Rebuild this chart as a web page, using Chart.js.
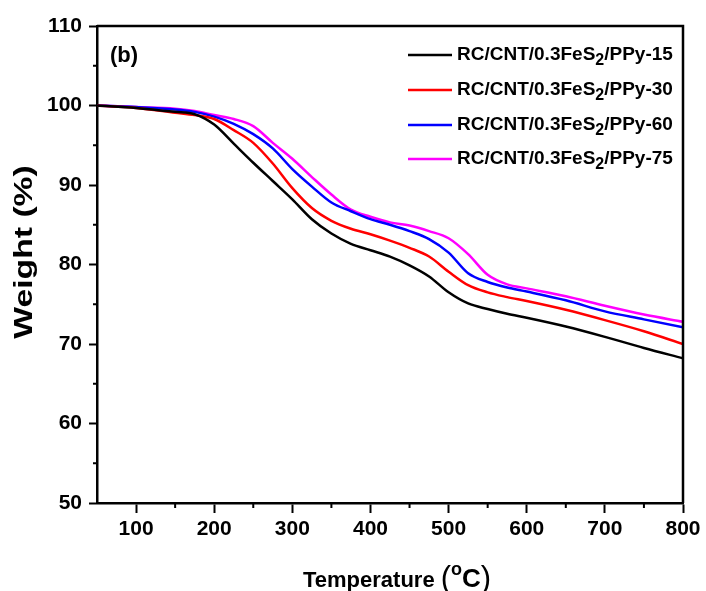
<!DOCTYPE html>
<html><head><meta charset="utf-8">
<script src="https://cdn.jsdelivr.net/npm/chart.js@4/dist/chart.umd.min.js"></script>
<style>html,body{margin:0;padding:0;background:#fff}#wrap{width:706px;height:591px}</style>
</head><body><div id="wrap"><canvas id="c" width="706" height="591"></canvas></div>
<script>
// ---- data ----
const temperatures = [50,100,150,175,200,225,250,275,300,325,350,375,400,425,450,475,500,525,550,575,600,650,700,750,800];
const ppy15 = [100,99.7,99.2,98.9,97.6,95.2,92.8,90.5,88.2,85.7,83.9,82.6,81.8,81.0,79.9,78.5,76.5,75.1,74.4,73.8,73.3,72.2,70.9,69.5,68.2];
const ppy30 = [100,99.7,99.1,98.8,98.3,96.9,95.3,92.7,89.6,87.1,85.5,84.5,83.8,83.0,82.1,81.0,79.1,77.4,76.5,75.9,75.4,74.3,73.0,71.6,70.0];
const ppy60 = [100,99.8,99.5,99.2,98.6,97.7,96.4,94.6,92.0,89.8,87.8,86.7,85.7,85.0,84.2,83.2,81.5,78.9,77.8,77.1,76.6,75.5,74.1,73.1,72.1];
const ppy75 = [100,99.8,99.6,99.3,98.8,98.3,97.4,95.3,93.3,91.0,88.8,86.9,86.0,85.3,84.9,84.2,83.3,81.3,78.7,77.5,77.0,76.0,74.8,73.7,72.8];
const seriesNames = ["RC/CNT/0.3FeS2/PPy-15","RC/CNT/0.3FeS2/PPy-30","RC/CNT/0.3FeS2/PPy-60","RC/CNT/0.3FeS2/PPy-75"];
const xTicks = [100,200,300,400,500,600,700,800];
const yTicks = [50,60,70,80,90,100,110];
const xMinorTicks = [150,250,350,450,550,650,750];
const yMinorTicks = [55,65,75,85,95,105];
const panelLabel = "(b)";
const xTitleParts = ["Temperature ", "(", "o", "C", ")"];
const yTitle = "Weight (%)";

// ---- styles ----
const colors = ["#000000","#ff0000","#0000ff","#ff00ff"];
const FONT = "'Liberation Sans', Arial, sans-serif";

const allSeries = [ppy15, ppy30, ppy60, ppy75];
const datasets = allSeries.map((s, i) => ({
  label: seriesNames[i],
  data: temperatures.map((t, j) => ({x: t, y: s[j]})),
  borderColor: colors[i],
  backgroundColor: colors[i],
  borderWidth: 2.5,
  pointRadius: 0,
  cubicInterpolationMode: 'monotone',
  fill: false
}));

const decor = {
  id: 'decor',
  afterDraw(chart) {
    const ctx = chart.ctx, a = chart.chartArea;
    const xs = chart.scales.x, ys = chart.scales.y;
    ctx.save();
    ctx.strokeStyle = '#000';
    ctx.lineWidth = 2.5;
    ctx.beginPath();
    ctx.moveTo(a.left, a.top); ctx.lineTo(a.right, a.top); ctx.lineTo(a.right, a.bottom);
    ctx.stroke();
    // minor ticks
    ctx.lineWidth = 2;
    ctx.beginPath();
    xMinorTicks.forEach(v => { const p = xs.getPixelForValue(v); ctx.moveTo(p, a.bottom); ctx.lineTo(p, a.bottom + 5); });
    yMinorTicks.forEach(v => { const p = ys.getPixelForValue(v); ctx.moveTo(a.left, p); ctx.lineTo(a.left - 4, p); });
    ctx.stroke();
    // panel label
    ctx.fillStyle = '#000';
    ctx.font = "bold 22px " + FONT;
    ctx.textBaseline = 'middle';
    ctx.textAlign = 'left';
    ctx.fillText(panelLabel, a.left + 13, a.top + 30);
    // legend
    const lx0 = 408, lx1 = 452, tx = 457;
    const rows = [55, 90, 125, 159];
    seriesNames.forEach((name, i) => {
      const y = rows[i];
      ctx.strokeStyle = colors[i];
      ctx.lineWidth = 2.5;
      ctx.beginPath(); ctx.moveTo(lx0, y); ctx.lineTo(lx1, y); ctx.stroke();
      const k = name.indexOf("S2/");
      const pre = name.slice(0, k + 1), sub = "2", post = name.slice(k + 2);
      ctx.fillStyle = '#000';
      ctx.font = "bold 19px " + FONT;
      ctx.textBaseline = 'middle';
      let x = tx;
      ctx.fillText(pre, x, y); x += ctx.measureText(pre).width;
      ctx.font = "bold 16px " + FONT;
      ctx.fillText(sub, x, y + 6); x += ctx.measureText(sub).width;
      ctx.font = "bold 19px " + FONT;
      ctx.fillText(post, x, y);
    });
    // x title
    const ty = 581;
    const fonts = ["bold 22px " + FONT, "31px " + FONT, "bold 18px " + FONT, "bold 26px " + FONT, "31px " + FONT];
    const dy = [0, -2, -11, -1, -2];
    let x = 303;
    ctx.fillStyle = '#000';
    ctx.textBaseline = 'middle';
    xTitleParts.forEach((p, i) => { ctx.font = fonts[i]; ctx.fillText(p, x, ty + dy[i]); x += ctx.measureText(p).width; });
    // y title (stretched along its length like the reference)
    ctx.save();
    ctx.translate(25, 252);
    ctx.rotate(-Math.PI / 2);
    ctx.scale(1.35, 1);
    ctx.font = "bold 25px " + FONT;
    ctx.textAlign = 'center';
    ctx.textBaseline = 'middle';
    ctx.fillText(yTitle, 0, 0);
    ctx.restore();
    ctx.restore();
  }
};

new Chart(document.getElementById('c'), {
  type: 'line',
  data: { datasets },
  options: {
    responsive: false,
    animation: false,
    devicePixelRatio: 1,
    layout: { padding: { left: 0, right: 23, top: 26, bottom: 0 } },
    plugins: { legend: { display: false }, tooltip: { enabled: false } },
    scales: {
      x: {
        type: 'linear', min: 50, max: 800,
        afterBuildTicks: s => { s.ticks = xTicks.map(v => ({value: v})); },
        afterFit: s => { s.height = 88; },
        border: { display: true, color: '#000', width: 2.5 },
        grid: { drawOnChartArea: false, drawTicks: true, tickLength: 10, tickWidth: 2, tickColor: '#000', color: '#000' },
        ticks: { color: '#000', padding: 4, font: { family: FONT, size: 21, weight: 'bold' }, maxRotation: 0, callback: v => String(v) }
      },
      y: {
        type: 'linear', min: 50, max: 110,
        afterBuildTicks: s => { s.ticks = yTicks.map(v => ({value: v})); },
        afterFit: s => { s.width = 97; },
        border: { display: true, color: '#000', width: 2.5 },
        grid: { drawOnChartArea: false, drawTicks: true, tickLength: 8, tickWidth: 2, tickColor: '#000', color: '#000' },
        ticks: { color: '#000', padding: 7, font: { family: FONT, size: 21, weight: 'bold' }, callback: v => String(v) }
      }
    }
  },
  plugins: [decor]
});
</script></body></html>
